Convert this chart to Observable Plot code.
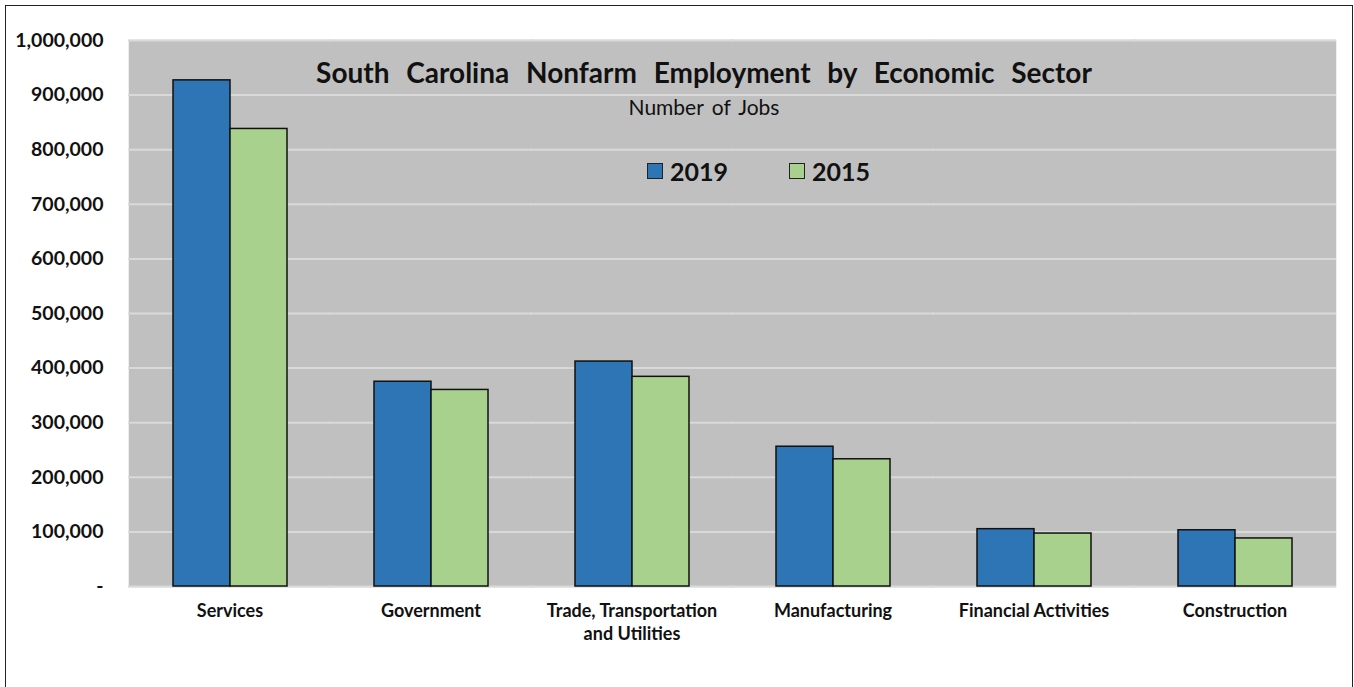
<!DOCTYPE html>
<html>
<head>
<meta charset="utf-8">
<script src="https://cdn.jsdelivr.net/npm/d3@7"></script>
<script src="https://cdn.jsdelivr.net/npm/@observablehq/plot@0.6"></script>
<style>
  html, body { margin: 0; padding: 0; background: #fff; }
  body { width: 1354px; height: 687px; overflow: hidden; position: relative; font-family: Lato, "Open Sans", sans-serif; }
  #frame { position: absolute; left: 5px; top: 5px; width: 1348px; height: 720px; border: 1.5px solid #222; box-sizing: border-box; }
  #chart { position: absolute; left: 0; top: 0; }
  .ov { position: absolute; white-space: nowrap; color: #111; }
  #title { left: 704px; top: 55px; transform: translateX(-50%); font-weight: 700; font-size: 28px; word-spacing: 10px; }
  #subtitle { left: 704px; top: 94px; transform: translateX(-50%); font-size: 21px; word-spacing: 3px; }
  .lg { position: absolute; top: 156px; display: flex; align-items: center; font-weight: 700; font-size: 25px; color: #111; }
  .sw { width: 14px; height: 14px; border: 1.5px solid #222; margin-right: 7px; }
</style>
</head>
<body>
<div id="frame"></div>
<div id="chart"></div>
<div class="ov" id="title">South Carolina Nonfarm Employment by Economic Sector</div>
<div class="ov" id="subtitle">Number of Jobs</div>
<div id="legend"></div>
<script>
const sectors = ["Services", "Government", "Trade, Transportation and Utilities", "Manufacturing", "Financial Activities", "Construction"];
const years = ["2019", "2015"];
const jobs2019 = [927000, 375000, 412000, 256000, 105000, 103000];
const jobs2015 = [838000, 360000, 384000, 233000, 97000, 88000];
const yTicks = [0, 100000, 200000, 300000, 400000, 500000, 600000, 700000, 800000, 900000, 1000000];
const colors = ["#2e75b6", "#a9d18e"];

const data = [];
sectors.forEach((s, i) => {
  data.push({sector: s, year: "2019", value: jobs2019[i]});
  data.push({sector: s, year: "2015", value: jobs2015[i]});
});

const fmt = d3.format(",");
const chart = Plot.plot({
  width: 1354,
  height: 687,
  marginLeft: 127,
  marginRight: 18,
  marginTop: 40,
  marginBottom: 101,
  style: {fontFamily: "Lato, 'Open Sans', sans-serif", background: "transparent", color: "#111"},
  fx: {domain: sectors, padding: 0, round: true, label: null},
  x: {domain: years, paddingInner: 0, paddingOuter: 0.74, axis: null},
  y: {domain: [0, 1000000], label: null},
  color: {domain: years, range: colors},
  marks: [
    Plot.frame({fill: "#c0c0c0", stroke: "#c0c0c0", strokeWidth: 1.5}),
    Plot.ruleY(yTicks, {stroke: "#d9d9d9", strokeWidth: 2, insetLeft: -1, insetRight: -1}),
    Plot.barY(data, {fx: "sector", x: "year", y: "value", fill: "year", stroke: "#111", strokeWidth: 1.5, inset: 0}),
    Plot.axisY(yTicks, {
      tickSize: 0, tickPadding: 26, fontSize: 19.5, fontWeight: 700, label: null,
      tickFormat: d => d === 0 ? "-" : fmt(d)
    }),
    Plot.axisFx({
      anchor: "bottom",
      tickSize: 0, tickPadding: 14, fontSize: 18, fontWeight: 700, label: null, lineHeight: 1.28,
      tickFormat: d => d === "Trade, Transportation and Utilities" ? "Trade, Transportation\nand Utilities" : d
    })
  ]
});
document.getElementById("chart").appendChild(chart);

const legend = document.getElementById("legend");
const legendX = [647, 789];
years.forEach((y, i) => {
  const item = document.createElement("div");
  item.className = "lg";
  item.style.left = legendX[i] + "px";
  const sw = document.createElement("div");
  sw.className = "sw";
  sw.style.background = colors[i];
  item.appendChild(sw);
  item.appendChild(document.createTextNode(y));
  legend.appendChild(item);
});
</script>
</body>
</html>
